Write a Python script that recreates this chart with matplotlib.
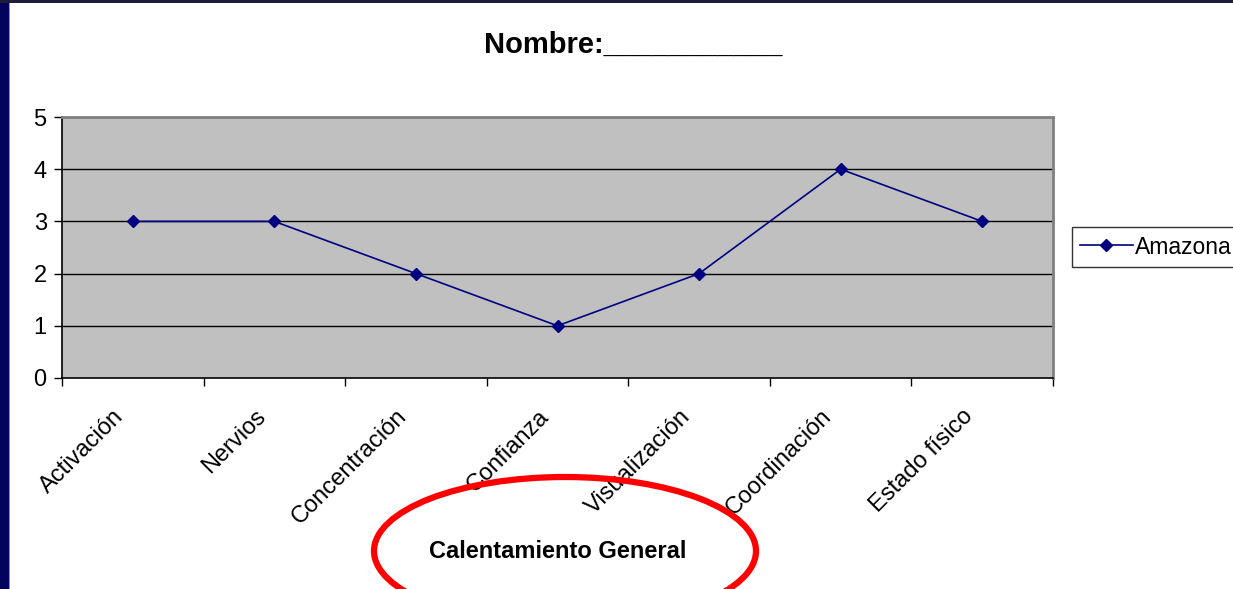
import matplotlib.pyplot as plt
import matplotlib.patches as mpatches
import matplotlib.transforms as mtransforms
import numpy as np

plt.rcParams['font.family'] = ['Liberation Sans', 'DejaVu Sans']

categories = ['Activación', 'Nervios', 'Concentración', 'Confianza',
              'Visualización', 'Coordinación', 'Estado físico']
values = [3, 3, 2, 1, 2, 4, 3]
series_name = 'Amazona'
title = 'Nombre:___________'
note = 'Calentamiento General'

W, H = 1233, 589
fig = plt.figure(figsize=(W / 100, H / 100), dpi=100)
fig.patch.set_facecolor('white')

# slide border + note ellipse drawn in pixel coords
bg = fig.add_axes([0, 0, 1, 1], zorder=5)
bg.set_xlim(0, W)
bg.set_ylim(H, 0)
bg.axis('off')
bg.patch.set_alpha(0)
bg.add_patch(mpatches.Rectangle((0, 0), 9, H, color='#03035e', lw=0))
bg.add_patch(mpatches.Rectangle((0, 0), W, 3, color='#1c1c3c', lw=0))
bg.add_patch(mpatches.Rectangle((9, 3), 1, H, color='#9090a0', lw=0))

ax = fig.add_axes([62 / W, 1 - 378 / H, (1053 - 62) / W, (378 - 117) / H])
ax.set_facecolor('#c0c0c0')

x = np.arange(len(categories))
ax.plot(x, values, color='#000080', lw=1.2, marker='D', markersize=6,
        label=series_name, zorder=3)

ax.set_xlim(-0.5, len(categories) - 0.5)
ax.set_ylim(0, 5)
ax.set_yticks(range(0, 6))
ax.tick_params(axis='y', labelsize=17, length=6, width=1, direction='out', pad=5)
for yv in range(1, 5):
    ax.axhline(yv, color='black', lw=1, zorder=1)

# category boundaries as major ticks, labels on minor ticks
ax.set_xticks(np.arange(-0.5, len(categories), 1.0))
ax.set_xticklabels([])
ax.set_xticks(x, minor=True)
ax.set_xticklabels(categories, minor=True, rotation=45, ha='right', va='top',
                   rotation_mode='anchor', fontsize=17)
ax.tick_params(axis='x', which='major', length=6, width=1, direction='out')
ax.tick_params(axis='x', which='minor', length=0, pad=14)
shift = mtransforms.ScaledTranslation(-0.20, -0.08, fig.dpi_scale_trans)
for lbl in ax.get_xticklabels(minor=True):
    lbl.set_transform(lbl.get_transform() + shift)

ax.spines['left'].set_color('black')
ax.spines['bottom'].set_color('black')
ax.spines['left'].set_linewidth(1.2)
ax.spines['bottom'].set_linewidth(1.2)
ax.spines['top'].set_color('#808080')
ax.spines['right'].set_color('#808080')
ax.spines['top'].set_linewidth(2)
ax.spines['right'].set_linewidth(2)

fig.text(633 / W, 1 - 45 / H, title, ha='center', va='center',
         fontsize=21, fontweight='bold')

leg = fig.legend(loc='center left', bbox_to_anchor=(1072 / W, 1 - 247 / H),
                 fontsize=16.5, frameon=True, fancybox=False, edgecolor='black',
                 borderpad=0.35, handlelength=2.3, handletextpad=0.1,
                 borderaxespad=0)
leg.get_frame().set_linewidth(1)

bg.add_patch(mpatches.Ellipse((565, 551), 382, 148, fill=False,
                              edgecolor='#ff0000', lw=4.5))
bg.text(558, 551, note, ha='center', va='center', fontsize=17,
        fontweight='bold')

fig.savefig('out.png', dpi=100)
